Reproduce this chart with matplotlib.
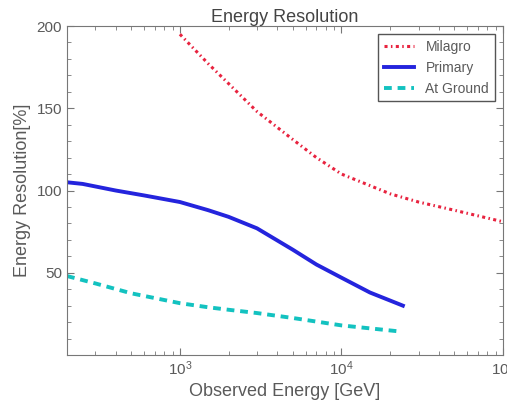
import numpy as np
import matplotlib
matplotlib.use("Agg")
import matplotlib.pyplot as plt
from matplotlib.ticker import LogLocator, MultipleLocator, FixedLocator

# observed energy [GeV] and resolution [%]
milagro_e = [1000, 1500, 2000, 3000, 5000, 7000, 10000, 20000, 30000, 50000, 100000]
milagro_r = [195, 177, 165, 148, 131, 120, 110, 98, 93, 88, 81]

primary_e = [200, 250, 400, 600, 1000, 1500, 2000, 3000, 5000, 7000, 10000, 15000, 24000]
primary_r = [105, 104, 100, 97, 93, 88, 84, 77, 64, 55, 47, 38, 30]

ground_e = [200, 300, 500, 1000, 1500, 2000, 3000, 5000, 10000, 22000]
ground_r = [48, 43.5, 37.5, 31.5, 29, 27.5, 25.5, 22.5, 18, 14.5]

GRAY = "#5a5a5a"
plt.rcParams["font.family"] = ["Liberation Sans", "DejaVu Sans"]

fig = plt.figure(figsize=(5.07, 4.05), dpi=100)
ax = fig.add_axes([67 / 507, 1 - 355 / 405, (503 - 67) / 507, (355 - 26) / 405])

ax.plot(milagro_e, milagro_r, color="#e8233f", lw=2.2,
        linestyle=(0, (1.0, 1.1, 0.5, 1.1)), label="Milagro")
ax.plot(primary_e, primary_r, color="#2424dd", lw=2.8, label="Primary")
ax.plot(ground_e, ground_r, color="#13c2c0", lw=2.8,
        linestyle=(0, (2.0, 1.5)), label="At Ground")

ax.set_xscale("log")
ax.set_xlim(200, 1e5)
ax.set_ylim(0, 200)
ax.yaxis.set_major_locator(FixedLocator([50, 100, 150, 200]))
ax.yaxis.set_minor_locator(MultipleLocator(10))
ax.xaxis.set_major_locator(LogLocator(base=10))
ax.xaxis.set_minor_locator(LogLocator(base=10, subs=np.arange(2, 10)))

ax.tick_params(which="both", direction="in", top=True, right=True,
               colors="#777777", labelcolor=GRAY, labelsize=11)
ax.tick_params(which="major", length=5)
ax.tick_params(which="minor", length=3)
for s in ax.spines.values():
    s.set_color("#777777")

ax.set_title("Energy Resolution", color="#444444", fontsize=13, pad=3)
ax.set_xlabel("Observed Energy [GeV]", color=GRAY, fontsize=13, labelpad=3)
ax.set_ylabel("Energy Resolution[%]", color=GRAY, fontsize=13)

leg = ax.legend(loc="upper right", fontsize=10, fancybox=False,
                edgecolor="#555555", framealpha=1, handlelength=2.2,
                borderaxespad=0.6)
for t in leg.get_texts():
    t.set_color(GRAY)

fig.savefig("out.png", dpi=100)
